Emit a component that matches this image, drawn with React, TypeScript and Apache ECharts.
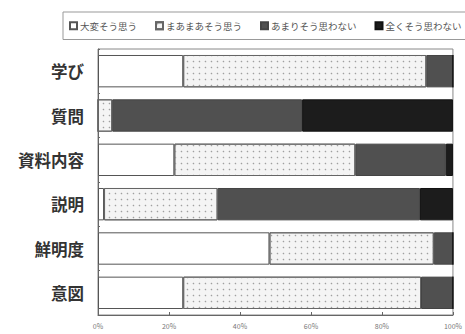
import React, { useEffect, useRef } from "react";
import * as echarts from "echarts";

const categories = ["学び", "質問", "資料内容", "説明", "鮮明度", "意図"];
const seriesNames = ["大変そう思う", "まあまあそう思う", "あまりそう思わない", "全くそう思わない"];
const verySo = [24, 0, 21.5, 1.7, 48.3, 24];
const somewhatSo = [68.5, 4, 51, 32, 46.3, 67];
const notReally = [7.5, 53.5, 25.5, 57, 5.4, 9];
const notAtAll = [0, 42.5, 2, 9.3, 0, 0];
const xTicks = [0, 20, 40, 60, 80, 100];

export default function App() {
  const ref = useRef<HTMLDivElement>(null);
  useEffect(() => {
    if (!ref.current) return;
    const chart = echarts.init(ref.current, undefined, { renderer: "svg" });
    const font = "'Noto Sans CJK JP', 'Noto Sans', sans-serif";
    const values = [verySo, somewhatSo, notReally, notAtAll];
    const styles = [
      { color: "#ffffff", borderColor: "#555", borderWidth: 1 },
      {
        color: "#f4f4f4",
        borderColor: "#666",
        borderWidth: 1,
        decal: { symbol: "circle", symbolSize: 0.5, dashArrayX: 3, dashArrayY: 3, color: "#a0a0a0" },
      },
      { color: "#505050", borderColor: "#444", borderWidth: 1 },
      { color: "#1c1c1c", borderColor: "#111", borderWidth: 1 },
    ];
    chart.setOption({
      animation: false,
      textStyle: { fontFamily: font },
      legend: {
        left: 63,
        top: 12,
        width: 400,
        padding: [9, 4, 9, 6],
        borderColor: "#999",
        borderWidth: 1,
        itemWidth: 7,
        itemHeight: 7,
        itemGap: 18,
        icon: "rect",
        textStyle: { fontSize: 9.5, color: "#555", fontFamily: font, padding: [0, 0, 0, -2] },
        data: seriesNames,
      },
      grid: { left: 98, right: 9, top: 49, bottom: 19, show: true, borderColor: "#888", borderWidth: 1 },
      xAxis: {
        type: "value",
        min: xTicks[0],
        max: xTicks[xTicks.length - 1],
        interval: 20,
        axisLabel: { formatter: "{value}%", fontSize: 7, color: "#777", margin: 7 },
        axisLine: { show: true, lineStyle: { color: "#666" } },
        axisTick: { show: true, inside: true, length: 3, lineStyle: { color: "#666" } },
        splitLine: { show: false },
      },
      yAxis: {
        type: "category",
        data: categories,
        inverse: true,
        axisLabel: { fontSize: 16.5, fontWeight: "bold", color: "#333", margin: 14 },
        axisLine: { show: true, lineStyle: { color: "#666" } },
        axisTick: { show: true, inside: true, length: 2, lineStyle: { color: "#666" } },
      },
      series: seriesNames.map((name, i) => ({
        name,
        type: "bar",
        stack: "total",
        barCategoryGap: "27%",
        data: values[i],
        itemStyle: styles[i],
      })),
    });
    return () => chart.dispose();
  }, []);
  return <div ref={ref} style={{ width: 465, height: 334, position: "absolute", left: 0, top: 0 }} />;
}
